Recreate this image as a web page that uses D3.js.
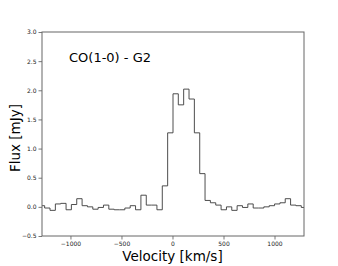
<!DOCTYPE html>
<html>
<head>
<meta charset="utf-8">
<script src="https://cdn.jsdelivr.net/npm/d3@7"></script>
<style>
  html, body { margin: 0; padding: 0; background: #fff; }
  svg { display: block; font-family: "DejaVu Sans", sans-serif; }
</style>
</head>
<body>
<div id="chart"></div>
<script>
// Channel velocities (km/s) and flux density (mJy)
const velocities = [
    -1279, -1227, -1174, -1122, -1069, -1017, -965, -912, -860, -807,
    -755, -703, -650, -598, -545, -493, -441, -388, -336, -283,
    -231, -179, -126, -74, -21, 31, 83, 136, 188, 241,
    293, 345, 398, 450, 503, 555, 607, 660, 712, 765,
    817, 869, 922, 974, 1027, 1079, 1131, 1184, 1236, 1289
];
const flux = [
    0.02, -0.02, -0.06, 0.05, 0.06, -0.05, 0.04, 0.14, 0.02, 0.00,
    -0.04, -0.01, 0.03, -0.04, -0.05, -0.05, -0.02, 0.02, -0.05, 0.20,
    0.03, 0.03, -0.05, 0.36, 1.27, 1.94, 1.75, 2.02, 1.85, 1.27,
    0.57, 0.11, 0.07, 0.03, -0.05, 0.00, -0.06, 0.02, -0.01, 0.05,
    -0.02, -0.02, 0.00, 0.02, 0.05, 0.07, 0.14, 0.03, 0.02, -0.01
];
const xTicks = [-1000, -500, 0, 500, 1000];
const yTicks = [-0.5, 0.0, 0.5, 1.0, 1.5, 2.0, 2.5, 3.0];
const title = "CO(1-0) - G2";

// Configuration
const width = 338;
const height = 266;
const margin = { top: 32, right: 34, bottom: 30, left: 42 };
const innerW = width - margin.left - margin.right;
const innerH = height - margin.top - margin.bottom;

const data = velocities.map((v, i) => ({ v: v, f: flux[i] }));

const x = d3.scaleLinear()
    .domain([velocities[0], velocities[velocities.length - 1]])
    .range([0, innerW]);

const y = d3.scaleLinear()
    .domain([-0.5, 3.0])
    .range([innerH, 0]);

const svg = d3.select("#chart")
    .append("svg")
    .attr("width", width)
    .attr("height", height)
    .attr("viewBox", [0, 0, width, height]);

const g = svg.append("g")
    .attr("transform", `translate(${margin.left}, ${margin.top})`);

// Spectrum as steps centred on each channel
const line = d3.line()
    .x(d => x(d.v))
    .y(d => y(d.f))
    .curve(d3.curveStep);

g.append("path")
    .datum(data)
    .attr("fill", "none")
    .attr("stroke", "#3a3a3a")
    .attr("stroke-width", 0.9)
    .attr("d", line);

// Axes
const xAxis = g.append("g")
    .attr("transform", `translate(0, ${innerH})`)
    .call(d3.axisBottom(x)
        .tickValues(xTicks)
        .tickSize(3.5)
        .tickPadding(2)
        .tickFormat(d => d3.format("d")(d).replace("-", "\u2212")));

const yAxis = g.append("g")
    .call(d3.axisLeft(y)
        .tickValues(yTicks)
        .tickSize(3.5)
        .tickPadding(2)
        .tickFormat(d => d3.format(".1f")(d).replace("-", "\u2212")));

[xAxis, yAxis].forEach(ax => {
    ax.select(".domain").remove();
    ax.selectAll("line").attr("stroke", "#555").attr("stroke-width", 0.8);
    ax.selectAll("text")
        .attr("fill", "#222")
        .style("font-size", "6px")
        .style("font-family", "DejaVu Sans, sans-serif");
});

// Frame
g.append("rect")
    .attr("x", 0)
    .attr("y", 0)
    .attr("width", innerW)
    .attr("height", innerH)
    .attr("fill", "none")
    .attr("stroke", "#666")
    .attr("stroke-width", 1);

// Panel label
g.append("text")
    .attr("x", 27)
    .attr("y", 30)
    .style("font-size", "13px")
    .attr("fill", "#000")
    .text(title);

// Axis titles
svg.append("text")
    .attr("x", margin.left + x(0))
    .attr("y", 261)
    .attr("text-anchor", "middle")
    .style("font-size", "13.5px")
    .attr("fill", "#000")
    .text("Velocity [km/s]");

svg.append("text")
    .attr("transform", `translate(20, ${margin.top + innerH / 2 + 4}) rotate(-90)`)
    .attr("text-anchor", "middle")
    .style("font-size", "13.5px")
    .attr("fill", "#000")
    .text("Flux [mJy]");
</script>
</body>
</html>
